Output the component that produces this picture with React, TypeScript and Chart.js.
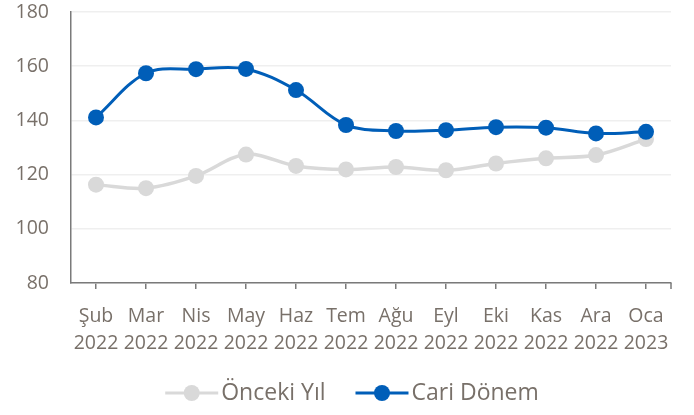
import React, { useEffect, useRef } from "react";
import { Chart, registerables } from "chart.js";

Chart.register(...registerables);

const months = ["Şub", "Mar", "Nis", "May", "Haz", "Tem", "Ağu", "Eyl", "Eki", "Kas", "Ara", "Oca"];
const years = ["2022", "2022", "2022", "2022", "2022", "2022", "2022", "2022", "2022", "2022", "2022", "2023"];
const oncekiYil = [116.3, 115.0, 119.5, 127.4, 123.2, 121.9, 122.8, 121.6, 124.1, 126.0, 127.2, 133.1];
const cariDonem = [141.1, 157.4, 158.9, 159.0, 151.2, 138.3, 136.1, 136.4, 137.5, 137.3, 135.2, 135.8];
const seriesNames = ["Önceki Yıl", "Cari Dönem"];

const TEXT = "#787069";
const GRAY = "#D9D9D9";
const BLUE = "#005EB8";
const AXIS = "#7a7a7a";
const FONT = '"Open Sans", "Noto Sans", sans-serif';

const legendPlugin = {
  id: "customLegend",
  afterDraw(chart: any) {
    const ctx = chart.ctx;
    const area = chart.chartArea;
    ctx.save();
    // closing tick mark at the right end of the category axis
    ctx.strokeStyle = AXIS;
    ctx.lineWidth = 1.5;
    ctx.beginPath();
    ctx.moveTo(area.right, area.bottom);
    ctx.lineTo(area.right, area.bottom + 6);
    ctx.stroke();

    const items = [
      { label: seriesNames[0], color: GRAY },
      { label: seriesNames[1], color: BLUE },
    ];
    ctx.font = `23px ${FONT}`;
    const lineW = 53;
    const gapText = 3;
    const gapItems = 30;
    const widths = items.map((it) => lineW + gapText + ctx.measureText(it.label).width);
    const total = widths[0] + widths[1] + gapItems;
    let x = 352 - total / 2;
    const y = 393;
    items.forEach((it, i) => {
      ctx.strokeStyle = it.color;
      ctx.lineWidth = 3;
      ctx.beginPath();
      ctx.moveTo(x, y);
      ctx.lineTo(x + lineW, y);
      ctx.stroke();
      ctx.fillStyle = it.color;
      ctx.beginPath();
      ctx.arc(x + lineW / 2, y, 8, 0, Math.PI * 2);
      ctx.fill();
      ctx.fillStyle = TEXT;
      ctx.textBaseline = "middle";
      ctx.textAlign = "left";
      ctx.fillText(it.label, x + lineW + gapText, y);
      x += widths[i] + gapItems;
    });
    ctx.restore();
  },
};

export default function App() {
  const ref = useRef<HTMLCanvasElement | null>(null);
  useEffect(() => {
    if (!ref.current) return;
    const chart = new Chart(ref.current, {
      type: "line",
      data: {
        labels: months.map((m, i) => [m, years[i]]),
        datasets: [
          {
            label: seriesNames[0],
            data: oncekiYil,
            borderColor: GRAY,
            backgroundColor: GRAY,
            pointBackgroundColor: GRAY,
            pointBorderColor: GRAY,
            borderWidth: 3.5,
            pointRadius: 8,
            pointBorderWidth: 0,
            tension: 0.35,
            order: 1,
          },
          {
            label: seriesNames[1],
            data: cariDonem,
            borderColor: BLUE,
            backgroundColor: BLUE,
            pointBackgroundColor: BLUE,
            pointBorderColor: BLUE,
            borderWidth: 3,
            pointRadius: 8,
            pointBorderWidth: 0,
            tension: 0.35,
            order: 0,
          },
        ],
      },
      options: {
        responsive: false,
        animation: false,
        devicePixelRatio: 1,
        layout: { padding: { top: 12, right: 23, bottom: 52, left: 0 } },
        plugins: { legend: { display: false }, tooltip: { enabled: false } },
        scales: {
          x: {
            offset: true,
            grid: {
              offset: false,
              drawOnChartArea: false,
              drawTicks: true,
              tickLength: 6,
              tickColor: AXIS,
              lineWidth: 1.5,
            },
            border: { color: AXIS, width: 1.5 },
            ticks: {
              color: TEXT,
              font: { family: FONT, size: 19.5, lineHeight: 1.37 },
              padding: 14,
              maxRotation: 0,
              autoSkip: false,
            },
            afterFit: (s: any) => {
              s.height = 80;
            },
          },
          y: {
            min: 80,
            max: 180,
            ticks: {
              stepSize: 20,
              color: TEXT,
              font: { family: FONT, size: 19.5, lineHeight: 1.2 },
              padding: 0,
            },
            grid: {
              color: "#efefef",
              lineWidth: 1.5,
              drawTicks: true,
              tickLength: 22,
              tickColor: "rgba(0,0,0,0)",
            },
            border: { color: AXIS, width: 1.5 },
            afterFit: (s: any) => {
              s.width = 71;
            },
          },
        },
      },
      plugins: [legendPlugin],
    });
    return () => chart.destroy();
  }, []);
  return (
    <div style={{ position: "absolute", left: 0, top: 0, width: 694, height: 415 }}>
      <canvas ref={ref} width={694} height={415} style={{ width: 694, height: 415 }} />
    </div>
  );
}
